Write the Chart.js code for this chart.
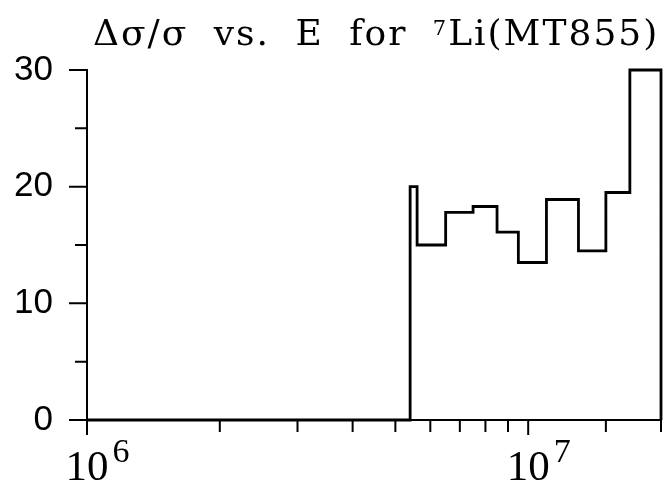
<!DOCTYPE html>
<html>
<head>
<meta charset="utf-8">
<script src="https://cdn.jsdelivr.net/npm/chart.js@4.4.1/dist/chart.umd.min.js"></script>
<style>
  html, body { margin: 0; padding: 0; background: #fff; }
  #wrap { width: 663px; height: 486px; }
</style>
</head>
<body>
<div id="wrap"><canvas id="grafica"></canvas></div>
<script>
// Li-7 (MT855): incertidumbre relativa por grupo de energía
const bordesEnergia = [1e6, 5.4e6, 5.6e6, 6.5e6, 7.5e6, 8.5e6, 9.5e6, 1.1e7, 1.3e7, 1.5e7, 1.7e7, 2e7]; // eV
const errorRelativo = [0, 20, 15, 17.8, 18.3, 16.1, 13.5, 18.9, 14.5, 19.5, 30]; // %
const ticksY = [0, 10, 20, 30];
const exponentesX = [6, 7];

// puntos del histograma: cada grupo empieza en su borde inferior, cierre en cero
const puntos = errorRelativo.map((v, i) => ({ x: bordesEnergia[i], y: v }));
puntos.push({ x: bordesEnergia[bordesEnergia.length - 1], y: 0 });

const NEGRO = '#000';

// titulo con superindice
const pluginTitulo = {
    id: 'titulo',
    afterDraw(chart) {
        const ctx = chart.ctx;
        ctx.save();
        ctx.fillStyle = NEGRO;
        ctx.textBaseline = 'alphabetic';
        ctx.textAlign = 'left';
        ctx.font = '36px "DejaVu Serif"';
        ctx.letterSpacing = '2px';
        ctx.wordSpacing = '12px';
        let x = 93;
        const base = 45;
        const parte1 = 'Δσ/σ vs. E for ';
        ctx.fillText(parte1, x, base);
        x += ctx.measureText(parte1).width;
        ctx.font = '21px "DejaVu Serif"';
        ctx.letterSpacing = '0px';
        ctx.fillText('7', x, 35);
        x += ctx.measureText('7').width + 2;
        ctx.font = '36px "DejaVu Serif"';
        ctx.letterSpacing = '2px';
        ctx.fillText('Li(MT855)', x, base);
        ctx.restore();
    }
};

// marcas de los ejes y etiquetas 10^n
const pluginEjes = {
    id: 'ejes',
    afterDraw(chart) {
        const ctx = chart.ctx;
        const { x: ex, y: ey } = chart.scales;
        const area = chart.chartArea;
        ctx.save();
        ctx.strokeStyle = NEGRO;
        ctx.lineWidth = 2;
        ctx.beginPath();
        ey.ticks.forEach(t => {
            const py = ey.getPixelForValue(t.value);
            const largo = ticksY.includes(t.value) ? 18 : 12;
            ctx.moveTo(area.left - largo, py);
            ctx.lineTo(area.left, py);
        });
        ex.ticks.forEach(t => {
            const px = ex.getPixelForValue(t.value);
            const dec = Math.log10(t.value);
            const largo = Math.abs(dec - Math.round(dec)) < 1e-9 ? 15 : 12;
            ctx.moveTo(px, area.bottom);
            ctx.lineTo(px, area.bottom + largo);
        });
        ctx.stroke();

        ctx.fillStyle = NEGRO;
        ctx.textBaseline = 'alphabetic';
        exponentesX.forEach(e => {
            const px = ex.getPixelForValue(Math.pow(10, e));
            ctx.font = '43px "Liberation Serif"';
            ctx.textAlign = 'center';
            const w = ctx.measureText('10').width;
            ctx.fillText('10', px, area.bottom + 60);
            ctx.font = '34px "Liberation Serif"';
            ctx.textAlign = 'left';
            ctx.fillText(String(e), px + w / 2 + 4, area.bottom + 42);
        });
        ctx.restore();
    }
};

new Chart(document.getElementById('grafica'), {
    type: 'line',
    data: {
        datasets: [{
            data: puntos,
            stepped: 'before',
            borderColor: NEGRO,
            borderWidth: 2.8,
            pointRadius: 0,
            fill: false,
            clip: false
        }]
    },
    options: {
        responsive: true,
        maintainAspectRatio: false,
        animation: false,
        layout: { padding: { top: 70, right: 2, left: 0, bottom: 0 } },
        plugins: {
            legend: { display: false },
            tooltip: { enabled: false }
        },
        scales: {
            x: {
                type: 'logarithmic',
                min: bordesEnergia[0],
                max: bordesEnergia[bordesEnergia.length - 1],
                grid: { display: false, drawTicks: false },
                border: { display: true, color: NEGRO, width: 2 },
                ticks: { display: false },
                afterFit: s => { s.height = 66; }
            },
            y: {
                type: 'linear',
                min: 0,
                max: 30,
                grid: { display: false, drawTicks: false },
                border: { display: true, color: NEGRO, width: 2 },
                ticks: {
                    stepSize: 5,
                    autoSkip: false,
                    padding: 34,
                    color: NEGRO,
                    font: { family: 'Liberation Sans', size: 35 },
                    callback: v => ticksY.includes(v) ? String(v) : ''
                },
                afterFit: s => { s.width = 87; }
            }
        }
    },
    plugins: [pluginTitulo, pluginEjes]
});
</script>
</body>
</html>
